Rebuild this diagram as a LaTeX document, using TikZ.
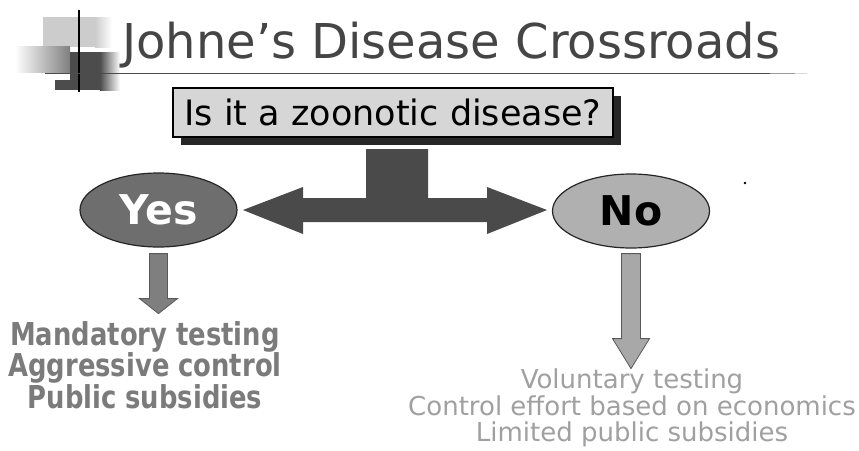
\documentclass[tikz,border=0pt]{standalone}
\usepackage{fontspec}
\usepackage{tikz}
\usetikzlibrary{shapes.geometric,shadows}
\newfontfamily\vfont{DejaVu Sans}
\newfontfamily\vcond[FakeStretch=0.82]{DejaVu Sans}
\definecolor{titlegray}{HTML}{454545}
\definecolor{boxgray}{HTML}{D6D6D6}
\definecolor{crossgray}{HTML}{4A4A4A}
\definecolor{yesgray}{HTML}{6E6E6E}
\definecolor{nogray}{HTML}{B0B0B0}
\definecolor{yesarrowgray}{HTML}{7F7F7F}
\definecolor{noarrowgray}{HTML}{A8A8A8}
\definecolor{yestextgray}{HTML}{7B7B7B}
\definecolor{notextgray}{HTML}{A0A0A0}
\tikzset{answer/.style={ellipse,draw=black!85,line width=1.2pt,minimum width=157pt,minimum height=74pt,inner sep=0pt,font=\vfont\bfseries\fontsize{41}{41}\selectfont}}

\begin{document}
\begin{tikzpicture}[x=1pt,y=-1pt,
  question/.style={draw=black,line width=1.5pt,fill=boxgray,minimum width=440pt,minimum height=49pt,inner sep=0pt,outer sep=0pt,
    font=\vfont\fontsize{35}{35}\selectfont,
    drop shadow={shadow xshift=8pt,shadow yshift=-8pt,fill=black!85,opacity=1}},
  outcome/.style={align=center,anchor=north,inner sep=0pt},
  blockarrow/.style={line width=0.8pt,draw=black!65}]
\useasboundingbox[fill=white] (0,0) rectangle (859,450);
\fill[black!20] (43,17) rectangle (95,47);
\shade[left color=black!20,right color=white] (95,17) rectangle (112,47);
\shade[left color=white,right color=black!50] (15,46) rectangle (70,72);
\fill[black!70] (70,52) rectangle (100,90);
\fill[black!70] (55,80) rectangle (70,90);
\shade[left color=black!70,right color=white] (100,52) rectangle (120,90);
\draw[line width=1.2pt] (79,10) -- (79,92);
\draw[black!70,line width=1pt] (45,73) -- (770,73);
\draw[black!40,line width=1pt] (770,73) -- (795,73);
\draw[black!15,line width=1pt] (795,73) -- (807,73);
\node[anchor=base west,inner sep=0pt,text=titlegray,font=\vfont\fontsize{48}{48}\selectfont] (title) at (122,58) {Johne’s Disease Crossroads};
\node[question] (q) at (393,112.5) {Is it a zoonotic disease?};
\node[answer,fill=yesgray,text=white] (yes) at (158.5,210) {Yes};
\node[answer,fill=nogray] (no) at (631,211) {No};
\fill[crossgray,shift={(q.south)}] (-150,73) -- (-90,50) -- (-90,61) -- (-27,61) -- (-27,12) -- (35,12) -- (35,61)
  -- (94,61) -- (94,50) -- (154,73) -- (94,97) -- (94,85) -- (-90,85) -- (-90,97) -- cycle;
\filldraw[blockarrow,fill=yesarrowgray,shift={(yes.south)}] (-9,6) -- (9,6) -- (9,51) -- (19,51) -- (0,66) -- (-19,51) -- (-9,51) -- cycle;
\filldraw[blockarrow,fill=noarrowgray,shift={(no.south)}] (-9.5,5) -- (9.5,5) -- (9.5,90) -- (18.5,90) -- (0,120) -- (-18.5,90) -- (-9.5,90) -- cycle;
\node[outcome,text=yestextgray,font=\vcond\bfseries\fontsize{31.5}{26.5}\selectfont] (yesresult) at (145,321) {Mandatory testing\\Aggressive control\\Public subsidies};
\node[outcome,text=notextgray,font=\vfont\fontsize{26}{26.5}\selectfont] (noresult) at (632,369) {Voluntary testing\\Control effort based on economics\\Limited public subsidies};
\fill (745,183) circle (1.3pt);
\end{tikzpicture}
\end{document}
